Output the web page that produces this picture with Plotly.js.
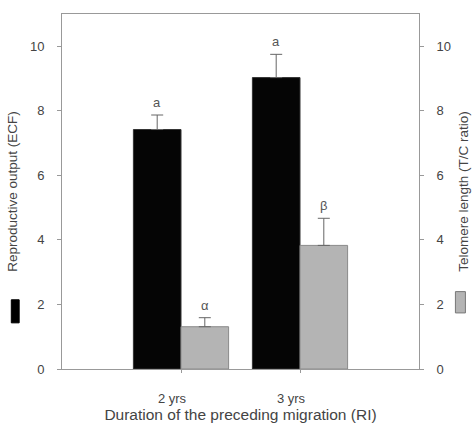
<!DOCTYPE html>
<html>
<head>
<meta charset="utf-8">
<script src="https://cdn.plot.ly/plotly-3.0.1.min.js"></script>
<style>html,body{margin:0;padding:0;background:#fff;}#chart{width:472px;height:432px;}</style>
</head>
<body>
<div id="chart"></div>
<script>
var categories = ['2 yrs', '3 yrs'];
var reproValues = [7.42, 9.03];
var reproErrors = [0.45, 0.72];
var reproLetters = ['a', 'a'];
var telomereValues = [1.31, 3.83];
var telomereErrors = [0.28, 0.84];
var telomereLetters = ['\u03b1', '\u03b2'];

var W = 0.4;
var fam = 'Liberation Sans, Arial, sans-serif';
var font = {family: fam, size: 13, color: '#444'};

var traces = [
  {type: 'bar', x: categories, y: reproValues, width: W, offset: -W,
   marker: {color: '#050505', line: {color: '#333', width: 1}},
   error_y: {type: 'data', symmetric: false, array: reproErrors, arrayminus: [0, 0], color: '#666', thickness: 1, width: 6},
   yaxis: 'y', hoverinfo: 'none'},
  {type: 'bar', x: categories, y: telomereValues, width: W, offset: 0,
   marker: {color: '#b4b4b4', line: {color: '#8a8a8a', width: 1}},
   error_y: {type: 'data', symmetric: false, array: telomereErrors, arrayminus: [0, 0], color: '#666', thickness: 1, width: 6},
   yaxis: 'y2', hoverinfo: 'none'}
];

var annotations = [];
categories.forEach(function (c, i) {
  annotations.push({xref: 'x', yref: 'y', x: i - W / 2, y: reproValues[i] + reproErrors[i], text: reproLetters[i],
    showarrow: false, yanchor: 'bottom', yshift: 3, font: {family: fam, size: 13, color: '#555'}});
  annotations.push({xref: 'x', yref: 'y2', x: i + W / 2, y: telomereValues[i] + telomereErrors[i], text: telomereLetters[i],
    showarrow: false, yanchor: 'bottom', yshift: 3, font: {family: fam, size: 13, color: '#555'}});
});

var layout = {
  width: 472, height: 432,
  margin: {l: 62, r: 53, t: 14, b: 63},
  paper_bgcolor: '#fff', plot_bgcolor: '#fff',
  showlegend: false,
  font: font,
  xaxis: {type: 'category', range: [-1, 2], showgrid: false, zeroline: false,
    showline: true, linecolor: '#999', linewidth: 1, mirror: true,
    ticks: 'outside', ticklen: 3, tickcolor: '#999', ticklabelshift: -9, ticklabelstandoff: 14,
    tickfont: {family: fam, size: 13, color: '#444'},
    title: {text: 'Duration of the preceding migration (RI)', font: {family: fam, size: 15.5, color: '#444'}, standoff: 4}},
  yaxis: {range: [0, 11], tickvals: [0, 2, 4, 6, 8, 10], showgrid: false, zeroline: false,
    showline: true, linecolor: '#999', linewidth: 1, ticks: 'outside', ticklen: 4, tickcolor: '#999',
    ticklabelstandoff: 10, tickfont: {family: fam, size: 13, color: '#444'},
    title: {text: 'Reproductive output (ECF)', font: {family: fam, size: 13.5, color: '#444'}, standoff: 9}},
  yaxis2: {range: [0, 11], tickvals: [0, 2, 4, 6, 8, 10], overlaying: 'y', side: 'right', showgrid: false, zeroline: false,
    showline: true, linecolor: '#999', linewidth: 1, ticks: 'outside', ticklen: 4, tickcolor: '#999',
    ticklabelstandoff: 10, tickfont: {family: fam, size: 13, color: '#444'},
    title: {text: 'Telomere length (T/C ratio)', font: {family: fam, size: 13.5, color: '#444'}, standoff: 8}},
  annotations: annotations,
  shapes: [
    {type: 'rect', xref: 'paper', yref: 'paper', x0: -0.142, x1: -0.12, y0: 0.13, y1: 0.195, fillcolor: '#000', line: {color: '#000', width: 1}},
    {type: 'rect', xref: 'paper', yref: 'paper', x0: 1.102, x1: 1.13, y0: 0.158, y1: 0.218, fillcolor: '#b4b4b4', line: {color: '#777', width: 1}}
  ]
};

Plotly.newPlot('chart', traces, layout, {displayModeBar: false, staticPlot: true});
</script>
</body>
</html>
